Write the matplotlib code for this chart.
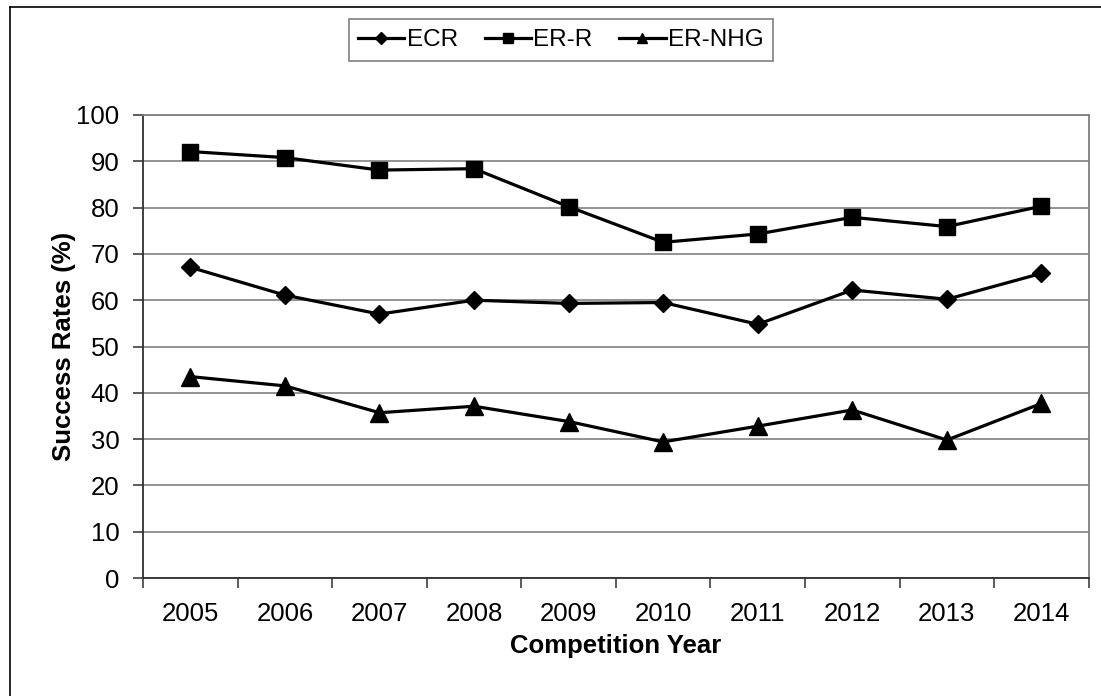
#!/usr/bin/env python3
"""
Success rates per competition year (ECR, ER-R, ER-NHG)
"""
import matplotlib
matplotlib.use("Agg")
import matplotlib.pyplot as plt
from matplotlib.lines import Line2D

plt.rcParams["font.family"] = ["Liberation Sans", "DejaVu Sans"]

years = ["2005", "2006", "2007", "2008", "2009", "2010", "2011", "2012", "2013", "2014"]
ecr = [67.1, 61.1, 57.0, 60.0, 59.3, 59.5, 54.8, 62.2, 60.2, 65.8]
er_r = [92.1, 90.8, 88.1, 88.4, 80.2, 72.5, 74.3, 77.9, 75.9, 80.3]
er_nhg = [43.5, 41.5, 35.7, 37.1, 33.8, 29.4, 32.8, 36.3, 29.8, 37.7]


def main():
    fig = plt.figure(figsize=(11.01, 6.96), dpi=100)
    ax = fig.add_axes([0.1299, 0.1695, 0.859, 0.6653])

    x = range(len(years))
    ax.plot(x, ecr, color="black", lw=2.3, marker="D", markersize=9.5, label="ECR")
    ax.plot(x, er_r, color="black", lw=2.3, marker="s", markersize=11.5, label="ER-R")
    ax.plot(x, er_nhg, color="black", lw=2.3, marker="^", markersize=12.5, label="ER-NHG")

    ax.set_xlim(-0.5, len(years) - 0.5)
    ax.set_ylim(0, 100)
    ax.set_yticks(range(0, 101, 10))
    ax.yaxis.grid(True, color="#808080", lw=1.2)
    ax.set_axisbelow(True)

    ax.set_xticks(list(x))
    ax.set_xticklabels(years)
    ax.set_xticks([i - 0.5 for i in range(len(years) + 1)], minor=True)
    ax.tick_params(axis="x", which="major", length=0, pad=17, labelsize=18.5)
    ax.tick_params(axis="x", which="minor", length=7, width=1.2, direction="out", color="#404040")
    ax.tick_params(axis="y", length=7, width=1.2, direction="out", color="#404040", labelsize=18.5, pad=10)

    for s in ["left", "bottom"]:
        ax.spines[s].set_color("#303030")
        ax.spines[s].set_linewidth(1.3)
    for s in ["top", "right"]:
        ax.spines[s].set_color("#808080")
        ax.spines[s].set_linewidth(1.3)

    ax.set_ylabel("Success Rates (%)", fontsize=18.5, fontweight="bold", labelpad=0)
    ax.set_xlabel("Competition Year", fontsize=18.5, fontweight="bold", labelpad=6)

    leg = fig.legend(loc="center", bbox_to_anchor=(561 / 1101, 1 - 40 / 696), ncol=3,
                     fontsize=17.5, frameon=True, fancybox=False, edgecolor="#606060",
                     markerscale=0.6, handlelength=1.9, handletextpad=0.1,
                     columnspacing=1.1, borderpad=0.4)
    leg.get_frame().set_linewidth(1.2)

    # outer chart border
    fig.add_artist(Line2D([10 / 1101, 10 / 1101], [0, 1 - 7 / 696], color="black", lw=1.2))
    fig.add_artist(Line2D([10 / 1101, 1], [1 - 7 / 696, 1 - 7 / 696], color="black", lw=1.2))

    fig.savefig("out.png", dpi=100)


if __name__ == "__main__":
    main()
